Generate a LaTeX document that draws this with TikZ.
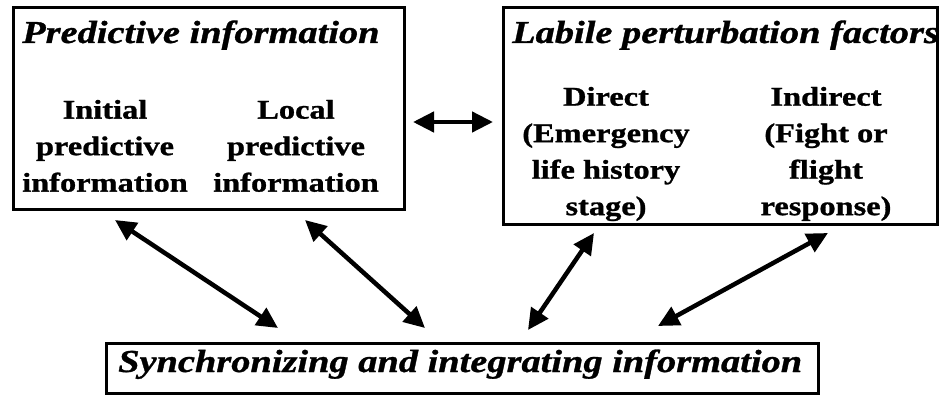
\documentclass[tikz,border=0pt]{standalone}
\usepackage{fontspec}
\setmainfont{Liberation Serif}[FakeStretch=1.2, BoldFeatures={FakeBold=1}, BoldItalicFeatures={FakeBold=1}]
\usetikzlibrary{arrows.meta}
\tikzset{
  box/.style={draw=black, line width=3pt, rectangle, inner sep=0pt},
  titletext/.style={inner sep=0pt, font=\fontsize{32}{38}\selectfont\bfseries\itshape},
  bottomtext/.style={inner sep=0pt, font=\fontsize{32}{38}\selectfont\bfseries\itshape},
  coltext/.style={inner sep=0pt, align=center, anchor=north, font=\fontsize{27}{36.5}\selectfont\bfseries},
  link/.style={line width=4.5pt, {Triangle[length=21pt,width=20pt]}-{Triangle[length=21pt,width=20pt]}},
}
\begin{document}
\begin{tikzpicture}[x=1pt,y=-1pt]
\useasboundingbox[fill=white] (0,0) rectangle (939,396);
% boxes
\node[box, minimum width=391pt, minimum height=201pt] (pbox) at (208.5,108.5) {};
\node[box, minimum width=434pt, minimum height=216pt] (lbox) at (720,116) {};
\node[box, minimum width=712pt, minimum height=50pt] (sbox) at (462,368) {};
% titles
\node[titletext, anchor=base west] (ptitle) at (22,43) {Predictive information};
\node[titletext, anchor=base west] (ltitle) at (512,43) {Labile perturbation factors};
\node[bottomtext, anchor=base west] (stitle) at (118,372) {Synchronizing and integrating information};
% columns
\node[coltext] (initial) at (105,99.7) {Initial\\predictive\\information};
\node[coltext] (local) at (296,99.7) {Local\\predictive\\information};
\node[coltext] (direct) at (606,86.7) {Direct\\(Emergency\\life history\\stage)};
\node[coltext] (indirect) at (826,86.7) {Indirect\\(Fight or\\flight\\response)};
% arrow end points
\coordinate (h1) at (413,122);
\coordinate (h2) at (493,122);
\coordinate (a1) at (115,220);
\coordinate (b1) at (278,328);
\coordinate (a2) at (305,220);
\coordinate (b2) at (425,328);
\coordinate (a3) at (594,233);
\coordinate (b3) at (528,330);
\coordinate (a4) at (828,233);
\coordinate (b4) at (658,326);
\draw[link] (h1) -- (h2);
\draw[link] (a1) -- (b1);
\draw[link] (a2) -- (b2);
\draw[link] (a3) -- (b3);
\draw[link] (a4) -- (b4);
\end{tikzpicture}
\end{document}
